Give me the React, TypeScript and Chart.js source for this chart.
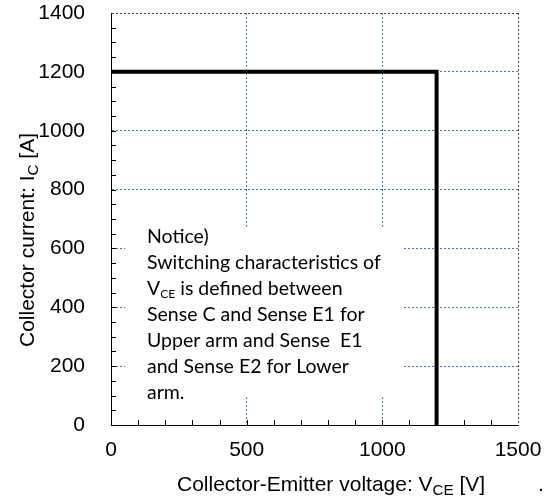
import React, { useEffect, useRef } from "react";
import { Chart, registerables } from "chart.js";

Chart.register(...registerables);

// Safe operating boundary: collector voltage (V) vs collector current (A)
const vceValues = [0, 1200, 1200];
const icValues = [1200, 1200, 0];

const xTicksMajor = [0, 500, 1000, 1500];
const yTicksMajor = [0, 200, 400, 600, 800, 1000, 1200, 1400];
const xMinorStep = 100;
const yMinorStep = 50;

type Part = { t: string; sub?: boolean };

const noticeLines: Part[][] = [
  [{ t: "Notice)" }],
  [{ t: "Switching characteristics of" }],
  [{ t: "V" }, { t: "CE", sub: true }, { t: " is defined between" }],
  [{ t: "Sense C and Sense E1 for" }],
  [{ t: "Upper arm and Sense  E1" }],
  [{ t: "and Sense E2 for Lower" }],
  [{ t: "arm." }],
];

const xTitle: Part[] = [{ t: "Collector-Emitter voltage: V" }, { t: "CE", sub: true }, { t: " [V]" }];
const yTitle: Part[] = [{ t: "Collector current: I" }, { t: "C", sub: true }, { t: " [A]" }];

const AXIS_FONT = "'Liberation Sans', Arial, sans-serif";
const NOTE_FONT = "Lato, 'Open Sans', sans-serif";

function drawRich(
  ctx: CanvasRenderingContext2D,
  parts: Part[],
  x: number,
  y: number,
  size: number,
  family: string,
  subScale: number,
  subDrop: number
) {
  let cx = x;
  for (const p of parts) {
    const s = p.sub ? size * subScale : size;
    ctx.font = `${s}px ${family}`;
    ctx.fillText(p.t, cx, p.sub ? y + subDrop : y);
    cx += ctx.measureText(p.t).width;
  }
}

const decorPlugin = {
  id: "decor",
  beforeDatasetsDraw(chart: any) {
    const { ctx, chartArea } = chart;
    // notice box hides the grid behind it
    const bx = chartArea.left + 14;
    const by = chartArea.top + 216;
    const bw = 278;
    const bh = 168;
    ctx.save();
    ctx.fillStyle = "#ffffff";
    ctx.fillRect(bx, by, bw, bh);
    ctx.fillStyle = "#000000";
    ctx.textBaseline = "middle";
    ctx.textAlign = "left";
    noticeLines.forEach((line, i) => {
      drawRich(ctx, line, bx + 22, by + 8 + i * 26, 19.5, NOTE_FONT, 0.62, 5);
    });
    ctx.restore();
  },
  afterDraw(chart: any) {
    const { ctx, chartArea } = chart;
    const xs = chart.scales.x;
    const ys = chart.scales.y;
    ctx.save();
    ctx.strokeStyle = "#000000";
    ctx.lineWidth = 1;
    ctx.beginPath();
    for (let v = xs.min + xMinorStep; v < xs.max; v += xMinorStep) {
      const px = Math.round(xs.getPixelForValue(v)) + 0.5;
      ctx.moveTo(px, chartArea.bottom);
      ctx.lineTo(px, chartArea.bottom - 5);
    }
    for (let v = ys.min + yMinorStep; v < ys.max; v += yMinorStep) {
      const py = Math.round(ys.getPixelForValue(v)) + 0.5;
      ctx.moveTo(chartArea.left, py);
      ctx.lineTo(chartArea.left + 5, py);
    }
    ctx.stroke();

    // axis titles
    ctx.fillStyle = "#000000";
    ctx.textBaseline = "alphabetic";
    ctx.textAlign = "left";
    drawRich(ctx, xTitle, 177, 491, 21, AXIS_FONT, 0.72, 4);
    ctx.font = `21px ${AXIS_FONT}`;
    ctx.fillText(".", 538, 491);

    ctx.translate(34, 347);
    ctx.rotate(-Math.PI / 2);
    drawRich(ctx, yTitle, 0, 0, 21, AXIS_FONT, 0.72, 4);
    ctx.restore();
  },
};

export default function App() {
  const canvasRef = useRef<HTMLCanvasElement | null>(null);

  useEffect(() => {
    if (!canvasRef.current) return;
    const gridColor = (ctx: any) => {
      const v = ctx.tick ? ctx.tick.value : 0;
      if (v === 0) return "rgba(0,0,0,0)";
      if (v === 1400 || v === 1500) return "#3c4050";
      return "#4472c4";
    };
    const chart = new Chart(canvasRef.current, {
      type: "line",
      data: {
        datasets: [
          {
            data: vceValues.map((x, i) => ({ x, y: icValues[i] })),
            borderColor: "#000000",
            borderWidth: 4,
            pointRadius: 0,
            borderJoinStyle: "miter",
            fill: false,
            tension: 0,
          },
        ],
      },
      options: {
        animation: false,
        responsive: true,
        maintainAspectRatio: false,
        layout: { padding: { left: 0, top: 13, right: 27, bottom: 0 } },
        plugins: { legend: { display: false }, tooltip: { enabled: false } },
        scales: {
          x: {
            type: "linear",
            min: 0,
            max: 1500,
            afterBuildTicks: (s: any) => {
              s.ticks = xTicksMajor.map((value) => ({ value }));
            },
            afterFit: (s: any) => {
              s.height = 72;
              s.paddingLeft = 0;
              s.paddingRight = 0;
            },
            grid: { color: gridColor, lineWidth: 1, drawTicks: false },
            border: { display: true, color: "#000000", width: 1, dash: [2, 2] },
            ticks: {
              color: "#000000",
              padding: 13,
              font: { family: AXIS_FONT, size: 21 },
              maxRotation: 0,
              callback: (v: any) => String(v),
            },
          },
          y: {
            type: "linear",
            min: 0,
            max: 1400,
            afterBuildTicks: (s: any) => {
              s.ticks = yTicksMajor.map((value) => ({ value }));
            },
            afterFit: (s: any) => {
              s.width = 111;
              s.paddingTop = 0;
              s.paddingBottom = 0;
            },
            grid: { color: gridColor, lineWidth: 1, drawTicks: false },
            border: { display: true, color: "#000000", width: 1, dash: [2, 2] },
            ticks: {
              color: "#000000",
              padding: 26,
              font: { family: AXIS_FONT, size: 21 },
              callback: (v: any) => String(v),
            },
          },
        },
      },
      plugins: [decorPlugin],
    } as any);
    return () => chart.destroy();
  }, []);

  return (
    <div style={{ position: "absolute", left: 0, top: 0, width: 545, height: 497, background: "#ffffff" }}>
      <canvas ref={canvasRef} />
    </div>
  );
}
